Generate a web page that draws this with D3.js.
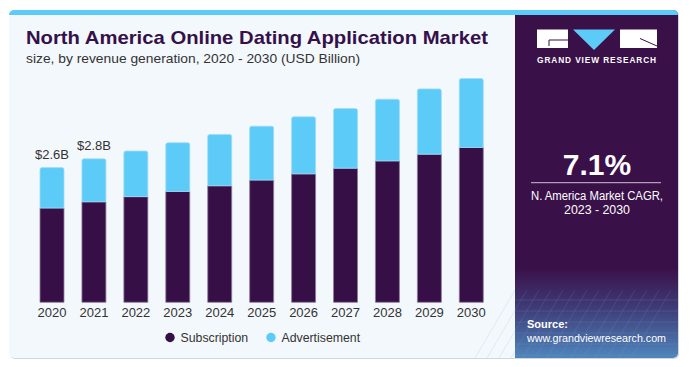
<!DOCTYPE html>
<html>
<head>
<meta charset="utf-8">
<script src="https://cdn.jsdelivr.net/npm/d3@7"></script>
<style>
  body { margin: 0; background: #fff; }
  svg { display: block; font-family: "Liberation Sans", Arial, sans-serif; }
</style>
</head>
<body>
<div id="chart"></div>
<script>
// data (USD Billion)
const years = ['2020', '2021', '2022', '2023', '2024', '2025', '2026', '2027', '2028', '2029', '2030'];
const subscription = [1.82, 1.94, 2.04, 2.14, 2.25, 2.36, 2.48, 2.59, 2.73, 2.86, 2.99];
const advertisement = [0.78, 0.83, 0.88, 0.94, 0.99, 1.04, 1.10, 1.15, 1.19, 1.26, 1.33];
const valueLabels = ['$2.6B', '$2.8B'];
const seriesNames = ['Subscription', 'Advertisement'];
const colors = ['#370f47', '#5ccbf7'];

const W = 690, H = 367;
const svg = d3.select('#chart').append('svg')
  .attr('width', W)
  .attr('height', H);

const defs = svg.append('defs');
const grad = defs.append('linearGradient')
  .attr('id', 'panelGrad')
  .attr('x1', 0).attr('y1', 0).attr('x2', 0).attr('y2', 1);
grad.append('stop').attr('offset', '0%').attr('stop-color', '#3a1049');
grad.append('stop').attr('offset', '74%').attr('stop-color', '#3a1049');
grad.append('stop').attr('offset', '86%').attr('stop-color', '#3f3d78');
grad.append('stop').attr('offset', '100%').attr('stop-color', '#4f86bd');

const clip = defs.append('clipPath').attr('id', 'cardClip');
clip.append('rect')
  .attr('x', 9).attr('y', 10).attr('width', 669).attr('height', 348).attr('rx', 5);

// card shadow + body
svg.append('rect')
  .attr('x', 10).attr('y', 11).attr('width', 669).attr('height', 348).attr('rx', 5)
  .attr('fill', '#d4d6da');
const card = svg.append('g').attr('clip-path', 'url(#cardClip)');
card.append('rect')
  .attr('x', 9).attr('y', 10).attr('width', 669).attr('height', 348)
  .attr('fill', '#f3f8fc');
// right panel
card.append('rect')
  .attr('x', 515).attr('y', 10).attr('width', 163).attr('height', 348)
  .attr('fill', 'url(#panelGrad)');
// faint grid texture in the panel bottom
const tex = card.append('g').attr('stroke', '#7fa6d6').attr('stroke-opacity', 0.18);
d3.range(0, 14).forEach(i => {
  tex.append('line')
    .attr('x1', 515 + i * 12).attr('x2', 515 + i * 12 - 40)
    .attr('y1', 290).attr('y2', 358);
});
d3.range(0, 6).forEach(i => {
  tex.append('line')
    .attr('x1', 515).attr('x2', 678)
    .attr('y1', 300 + i * 11).attr('y2', 300 + i * 11);
});
// top blue strip
card.append('rect')
  .attr('x', 9).attr('y', 10).attr('width', 669).attr('height', 5)
  .attr('fill', '#5ccbf7');

// titles
svg.append('text')
  .attr('x', 26).attr('y', 44)
  .attr('font-size', 19).attr('font-weight', 'bold')
  .attr('fill', '#35104a')
  .attr('textLength', 462).attr('lengthAdjust', 'spacingAndGlyphs')
  .text('North America Online Dating Application Market');
svg.append('text')
  .attr('x', 26).attr('y', 63)
  .attr('font-size', 13.5)
  .attr('fill', '#333')
  .attr('textLength', 334).attr('lengthAdjust', 'spacingAndGlyphs')
  .text('size, by revenue generation, 2020 - 2030 (USD Billion)');

// scales
const x = d3.scaleBand()
  .domain(years)
  .range([40, 483.3])
  .paddingInner(0.428)
  .paddingOuter(0);
const y = d3.scaleLinear()
  .domain([0, 4.5])
  .range([302.3, 302.3 - 4.5 * 51.8]);

const stackData = years.map((yr, i) => ({ year: yr, Subscription: subscription[i], Advertisement: advertisement[i] }));
const stack = d3.stack().keys(seriesNames)(stackData);

const bars = svg.append('g');
stack.forEach((layer, li) => {
  bars.selectAll('.bar' + li)
    .data(layer)
    .enter()
    .append('path')
    .attr('fill', colors[li])
    .attr('stroke', li === 0 ? '#8c7c99' : '#9fdcf7')
    .attr('stroke-width', 0.8)
    .attr('d', d => {
      const x0 = x(d.data.year), w = x.bandwidth();
      const yt = y(d[1]), yb = y(d[0]);
      const r = li === 1 ? 2 : 0;
      return `M${x0},${yb}V${yt + r}Q${x0},${yt} ${x0 + r},${yt}H${x0 + w - r}Q${x0 + w},${yt} ${x0 + w},${yt + r}V${yb}Z`;
    });
});

// value labels on first two bars
svg.append('g').selectAll('text')
  .data(valueLabels)
  .enter()
  .append('text')
  .attr('x', (d, i) => x(years[i]) + x.bandwidth() / 2)
  .attr('y', (d, i) => y(subscription[i] + advertisement[i]) - 9)
  .attr('text-anchor', 'middle')
  .attr('font-size', 13)
  .attr('fill', '#333')
  .text(d => d);

// x axis
const xAxis = svg.append('g')
  .attr('transform', 'translate(0,' + 302.3 + ')')
  .call(d3.axisBottom(x).tickSize(0).tickPadding(5));
xAxis.select('.domain').remove();
xAxis.selectAll('text')
  .attr('font-size', 13)
  .attr('fill', '#333')
  .attr('font-family', '"Liberation Sans", Arial, sans-serif');

// legend
const legendX = [170, 271];
const legend = svg.append('g').selectAll('g')
  .data(seriesNames)
  .enter()
  .append('g')
  .attr('transform', (d, i) => 'translate(' + legendX[i] + ',337.5)');
legend.append('circle').attr('r', 4.7).attr('fill', (d, i) => colors[i]);
legend.append('text')
  .attr('x', 10.5).attr('y', 4.3)
  .attr('font-size', 12.3)
  .attr('fill', '#333')
  .text(d => d);

// logo
const logo = svg.append('g');
logo.append('rect').attr('x', 537).attr('y', 29.5).attr('width', 31).attr('height', 18.5).attr('fill', '#fff');
logo.append('path').attr('d', 'M549,46V40H568').attr('fill', 'none').attr('stroke', '#3a1049').attr('stroke-width', 1);
logo.append('path').attr('d', 'M573,29.5H615L594,50Z').attr('fill', '#5ccbf7');
logo.append('rect').attr('x', 620).attr('y', 29.5).attr('width', 37).attr('height', 18.5).attr('fill', '#fff');
logo.append('path').attr('d', 'M640,38.5L657,46').attr('fill', 'none').attr('stroke', '#3a1049').attr('stroke-width', 1);
logo.append('text')
  .attr('x', 597).attr('y', 62.5)
  .attr('text-anchor', 'middle')
  .attr('font-size', 8.3).attr('font-weight', 'bold')
  .attr('letter-spacing', 0.9)
  .attr('fill', '#fff')
  .text('GRAND VIEW RESEARCH');

// CAGR block
svg.append('text')
  .attr('x', 597).attr('y', 175)
  .attr('text-anchor', 'middle')
  .attr('font-size', 30).attr('font-weight', 'bold')
  .attr('fill', '#fff')
  .text('7.1%');
svg.append('line')
  .attr('x1', 531).attr('x2', 661).attr('y1', 182.7).attr('y2', 182.7)
  .attr('stroke', '#c9bfd0').attr('stroke-width', 1);
svg.append('text')
  .attr('x', 597).attr('y', 200)
  .attr('text-anchor', 'middle')
  .attr('font-size', 12.5)
  .attr('fill', '#fff')
  .attr('textLength', 132).attr('lengthAdjust', 'spacingAndGlyphs')
  .text('N. America Market CAGR,');
svg.append('text')
  .attr('x', 597).attr('y', 214)
  .attr('text-anchor', 'middle')
  .attr('font-size', 12.5)
  .attr('fill', '#fff')
  .attr('textLength', 66).attr('lengthAdjust', 'spacingAndGlyphs')
  .text('2023 - 2030');

// source
svg.append('text')
  .attr('x', 527).attr('y', 328)
  .attr('font-size', 11).attr('font-weight', 'bold')
  .attr('fill', '#fff')
  .text('Source:');
svg.append('text')
  .attr('x', 527).attr('y', 342)
  .attr('font-size', 11)
  .attr('fill', '#fff')
  .attr('textLength', 139).attr('lengthAdjust', 'spacingAndGlyphs')
  .text('www.grandviewresearch.com');
</script>
</body>
</html>
